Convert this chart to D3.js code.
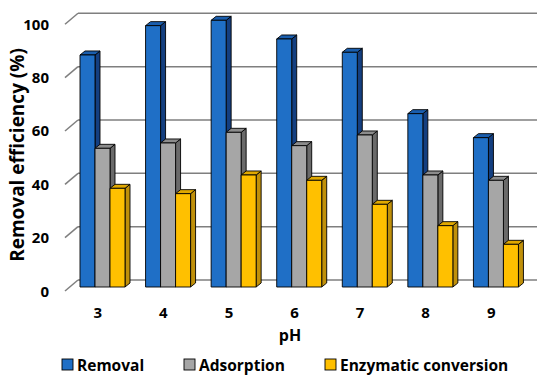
<!DOCTYPE html>
<html>
<head>
<meta charset="utf-8">
<script src="https://cdn.jsdelivr.net/npm/d3@7"></script>
<style>
  body { margin: 0; background: #fff; }
  text { font-family: "Open Sans", sans-serif; font-weight: bold; fill: #000; }
</style>
</head>
<body>
<div id="chart"></div>
<script>
"use strict";

// Data
const categories = ["3", "4", "5", "6", "7", "8", "9"];
const removal = [87, 98, 100, 93, 88, 65, 56];
const adsorption = [52, 54, 58, 53, 57, 42, 40];
const enzymatic = [37, 35, 42, 40, 31, 23, 16];
const seriesNames = ["Removal", "Adsorption", "Enzymatic conversion"];
const yTicks = [0, 20, 40, 60, 80, 100];

const series = [
  {name: seriesNames[0], values: removal, front: "#1f6fc6", side: "#143f80", top: "#1a5eae"},
  {name: seriesNames[1], values: adsorption, front: "#a6a6a6", side: "#6a6a6a", top: "#8c8c8c"},
  {name: seriesNames[2], values: enzymatic, front: "#ffc000", side: "#c0900a", top: "#e0a800"}
];

const width = 550, height = 381;
const svg = d3.select("#chart").append("svg")
  .attr("width", width)
  .attr("height", height);

// 3D wall offset (front -> back)
const wallDx = 13, wallDy = -11;
// bar depth
const barDx = 5, barDy = -4;

// Scales on the back wall
const xBack = d3.scaleBand().domain(categories).range([78, 537]);
const yBack = d3.scaleLinear().domain([0, 100]).range([280, 13.3]);
const yFront = v => yBack(v) - wallDy;
const yBar = v => yBack(v) + 7;

// Gridlines + left diagonal ticks
const grid = svg.append("g");
yTicks.forEach(t => {
  grid.append("line")
    .attr("x1", xBack.range()[0]).attr("x2", xBack.range()[1])
    .attr("y1", yBack(t)).attr("y2", yBack(t))
    .attr("stroke", "#7f7f7f").attr("stroke-width", 1.5);
  grid.append("line")
    .attr("x1", xBack.range()[0] - wallDx).attr("y1", yFront(t))
    .attr("x2", xBack.range()[0]).attr("y2", yBack(t))
    .attr("stroke", "#7f7f7f").attr("stroke-width", 1.5);
  svg.append("text")
    .attr("x", 49)
    .attr("y", yFront(t) + 5.5)
    .attr("text-anchor", "end")
    .attr("font-size", "15px")
    .text(t);
});

// Bars
const barW = 15;
categories.forEach((c, ci) => {
  series.forEach((s, si) => {
    const x = xBack(c) + 2 + si * barW;
    const y0 = yBar(0);
    const y1 = yBar(s.values[ci]);
    const g = svg.append("g")
      .attr("stroke", "#000")
      .attr("stroke-width", 0.9)
      .attr("stroke-linejoin", "round");
    // side face
    g.append("path")
      .attr("d", `M${x + barW},${y1} L${x + barW + barDx},${y1 + barDy} L${x + barW + barDx},${y0 + barDy} L${x + barW},${y0} Z`)
      .attr("fill", s.side);
    // top face
    g.append("path")
      .attr("d", `M${x},${y1} L${x + barDx},${y1 + barDy} L${x + barW + barDx},${y1 + barDy} L${x + barW},${y1} Z`)
      .attr("fill", s.top);
    // front face
    g.append("rect")
      .attr("x", x).attr("y", y1)
      .attr("width", barW).attr("height", y0 - y1)
      .attr("fill", s.front);
  });
});

// Category labels (front plane)
categories.forEach(c => {
  svg.append("text")
    .attr("x", xBack(c) - wallDx + xBack.bandwidth() / 2)
    .attr("y", 318)
    .attr("text-anchor", "middle")
    .attr("font-size", "15px")
    .text(c);
});

// Axis titles
svg.append("text")
  .attr("x", 290).attr("y", 341)
  .attr("text-anchor", "middle")
  .attr("font-size", "16px")
  .text("pH");

svg.append("text")
  .attr("transform", "translate(24,155) rotate(-90)")
  .attr("text-anchor", "middle")
  .attr("font-size", "19px")
  .text("Removal efficiency (%)");

// Legend
const legendX = [62, 184, 325];
series.forEach((s, i) => {
  svg.append("rect")
    .attr("x", legendX[i]).attr("y", 359)
    .attr("width", 11).attr("height", 11)
    .attr("fill", s.front)
    .attr("stroke", "#000").attr("stroke-width", 0.9);
  svg.append("text")
    .attr("x", legendX[i] + 15).attr("y", 370.5)
    .attr("font-size", "15.5px")
    .text(s.name);
});
</script>
</body>
</html>
